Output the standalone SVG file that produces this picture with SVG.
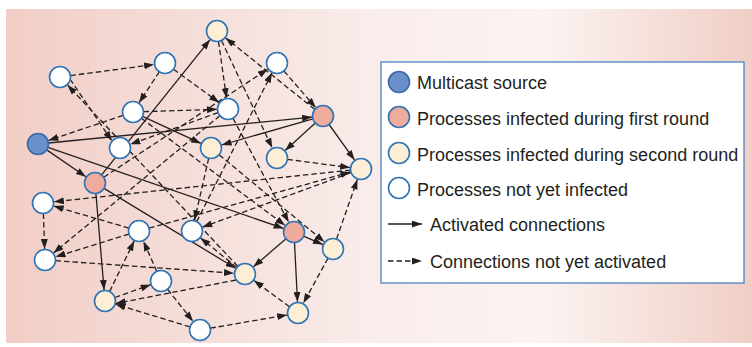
<svg xmlns="http://www.w3.org/2000/svg" width="752" height="347" viewBox="0 0 752 347">
<defs>
<linearGradient id="bg" x1="0" y1="0" x2="1" y2="0">
<stop offset="0" stop-color="#f1cec6"/>
<stop offset="0.5" stop-color="#f9edeb"/>
<stop offset="0.72" stop-color="#fbf3f2"/>
<stop offset="1" stop-color="#f0cec5"/>
</linearGradient>
<marker id="ah" viewBox="0 0 10 7" refX="10" refY="3.5" markerWidth="10" markerHeight="7" markerUnits="userSpaceOnUse" orient="auto">
<path d="M0,0 L10,3.5 L0,7 z" fill="#231f20"/>
</marker>
</defs>
<style>
.e{stroke:#231f20;stroke-width:1.3;fill:none;marker-end:url(#ah)}
.d{stroke-dasharray:5.5 3}
.n{stroke:#2f74b5;stroke-width:1.6}
.src{fill:#6a8fc9;stroke:#3a6aa8}
.r1{fill:#efab9b}
.r2{fill:#fdefd6}
.w{fill:#ffffff}
.t{font-family:"Liberation Sans",Arial,sans-serif;font-size:18px;fill:#231f20}
</style>
<rect x="6" y="9" width="746" height="334" fill="url(#bg)"/>
<g id="connectors">
<line class="e" x1="46.7" y1="149.9" x2="85.9" y2="176.8"/>
<line class="e" x1="48.4" y1="143" x2="312.1" y2="117.1"/>
<line class="e" x1="47.9" y1="147.4" x2="283.6" y2="228.4"/>
<line class="e" x1="101.6" y1="174.8" x2="210.1" y2="39.6"/>
<line class="e" x1="95.9" y1="193.5" x2="104.1" y2="290"/>
<line class="e" x1="104" y1="188.4" x2="235.6" y2="268.3"/>
<line class="e" x1="312.9" y1="118.9" x2="221.6" y2="145"/>
<line class="e" x1="315.3" y1="123.1" x2="285.1" y2="150.6"/>
<line class="e" x1="329.1" y1="124.5" x2="354.6" y2="160.1"/>
<line class="e" x1="286" y1="238.8" x2="253.4" y2="266.8"/>
<line class="e" x1="294.5" y1="242.5" x2="297.5" y2="302"/>
<line class="e" x1="303.6" y1="236.2" x2="322.9" y2="244.6"/>
<line class="e" x1="142.5" y1="116.4" x2="201" y2="143.4"/>
<line class="e d" x1="70.4" y1="75.6" x2="154.1" y2="64.5"/>
<line class="e d" x1="70" y1="79" x2="112" y2="141"/>
<line class="e d" x1="237.8" y1="266.3" x2="67.5" y2="85"/>
<line class="e d" x1="159.3" y1="71.8" x2="139" y2="102.8"/>
<line class="e d" x1="173.5" y1="69.2" x2="219.1" y2="102.5"/>
<line class="e d" x1="123" y1="115.4" x2="48.4" y2="140.5"/>
<line class="e d" x1="143.5" y1="111.7" x2="217" y2="109.3"/>
<line class="e d" x1="218.1" y1="112.6" x2="130.3" y2="144.3"/>
<line class="e d" x1="218.5" y1="41.4" x2="226.5" y2="98.1"/>
<line class="e d" x1="221.5" y1="40.5" x2="272.3" y2="148.1"/>
<line class="e d" x1="314.8" y1="109.4" x2="225.6" y2="37.9"/>
<line class="e d" x1="283.9" y1="70.9" x2="315.8" y2="107.7"/>
<line class="e d" x1="196.7" y1="221.6" x2="272" y2="72.8"/>
<line class="e d" x1="103.8" y1="177.2" x2="267.8" y2="69.1"/>
<line class="e d" x1="219.9" y1="115.7" x2="53.5" y2="253"/>
<line class="e d" x1="233" y1="118.3" x2="288.8" y2="222.3"/>
<line class="e d" x1="141.4" y1="118.3" x2="285.2" y2="225.4"/>
<line class="e d" x1="219.1" y1="154.7" x2="324.5" y2="242"/>
<line class="e d" x1="287.4" y1="159.4" x2="350.1" y2="167.6"/>
<line class="e d" x1="350.6" y1="170.1" x2="53.9" y2="201.8"/>
<line class="e d" x1="149.1" y1="228.2" x2="350.4" y2="172"/>
<line class="e d" x1="351.1" y1="172.6" x2="202.3" y2="227.2"/>
<line class="e d" x1="336.5" y1="239.1" x2="357.4" y2="179.4"/>
<line class="e d" x1="328" y1="258.2" x2="303.3" y2="303.3"/>
<line class="e d" x1="208.7" y1="158.2" x2="194.5" y2="220.3"/>
<line class="e d" x1="43.4" y1="213.5" x2="44.6" y2="249"/>
<line class="e d" x1="129" y1="234.1" x2="55.5" y2="256.8"/>
<line class="e d" x1="128.9" y1="228.1" x2="53.6" y2="206.1"/>
<line class="e d" x1="55.5" y1="260.7" x2="234" y2="273.2"/>
<line class="e d" x1="109.6" y1="291.6" x2="134.2" y2="240.9"/>
<line class="e d" x1="114.9" y1="297.5" x2="150.6" y2="284.7"/>
<line class="e d" x1="156.8" y1="271.4" x2="143.4" y2="241.1"/>
<line class="e d" x1="167.5" y1="289.2" x2="193.1" y2="321.4"/>
<line class="e d" x1="190" y1="326.9" x2="115.5" y2="304.2"/>
<line class="e d" x1="210.3" y1="328.2" x2="287.2" y2="314.9"/>
<line class="e d" x1="236" y1="280" x2="115.6" y2="303.5"/>
<line class="e d" x1="289.5" y1="306.8" x2="253.9" y2="280.5"/>
<line class="e d" x1="236.8" y1="267.4" x2="200.5" y2="237.9"/>
</g>
<g id="S"><circle class="n src" cx="38" cy="144" r="10.5"/></g>
<g id="A"><circle class="n w" cx="60" cy="77" r="10.5"/></g>
<g id="B"><circle class="n w" cx="165" cy="63" r="10.5"/></g>
<g id="C"><circle class="n w" cx="133" cy="112" r="10.5"/></g>
<g id="D"><circle class="n w" cx="120" cy="148" r="10.5"/></g>
<g id="R1"><circle class="n r1" cx="95" cy="183" r="10.5"/></g>
<g id="E"><circle class="n r2" cx="217" cy="31" r="10.5"/></g>
<g id="F"><circle class="n w" cx="277" cy="63" r="10.5"/></g>
<g id="G"><circle class="n w" cx="228" cy="109" r="10.5"/></g>
<g id="R2"><circle class="n r1" cx="323" cy="116" r="10.5"/></g>
<g id="H"><circle class="n r2" cx="211" cy="148" r="10.5"/></g>
<g id="I"><circle class="n r2" cx="277" cy="158" r="10.5"/></g>
<g id="J"><circle class="n r2" cx="361" cy="169" r="10.5"/></g>
<g id="K"><circle class="n w" cx="43" cy="203" r="10.5"/></g>
<g id="L"><circle class="n w" cx="139" cy="231" r="10.5"/></g>
<g id="M"><circle class="n w" cx="192" cy="231" r="10.5"/></g>
<g id="R3"><circle class="n r1" cx="294" cy="232" r="10.5"/></g>
<g id="N"><circle class="n r2" cx="333" cy="249" r="10.5"/></g>
<g id="O"><circle class="n w" cx="45" cy="260" r="10.5"/></g>
<g id="P"><circle class="n r2" cx="245" cy="274" r="10.5"/></g>
<g id="Q"><circle class="n w" cx="161" cy="281" r="10.5"/></g>
<g id="T"><circle class="n r2" cx="105" cy="301" r="10.5"/></g>
<g id="U"><circle class="n r2" cx="298" cy="313" r="10.5"/></g>
<g id="V"><circle class="n w" cx="200" cy="330" r="10.5"/></g>
<g id="legend">
<rect x="381" y="62" width="363" height="221" fill="#ffffff" stroke="#3b7bbf" stroke-width="1.2"/>
<circle class="n src" cx="399" cy="82" r="10.5"/>
<circle class="n r1" cx="399" cy="117" r="10.5"/>
<circle class="n r2" cx="399" cy="153" r="10.5"/>
<circle class="n w" cx="399" cy="188" r="10.5"/>
<text class="t" x="417" y="89">Multicast source</text>
<text class="t" x="417" y="124.5">Processes infected during first round</text>
<text class="t" x="417" y="160.5">Processes infected during second round</text>
<text class="t" x="417" y="196">Processes not yet infected</text>
<line class="e" x1="388" y1="224" x2="422" y2="224"/>
<line class="e d" x1="388" y1="261" x2="422" y2="261"/>
<text class="t" x="430" y="231">Activated connections</text>
<text class="t" x="430" y="267.5">Connections not yet activated</text>
</g>
</svg>
